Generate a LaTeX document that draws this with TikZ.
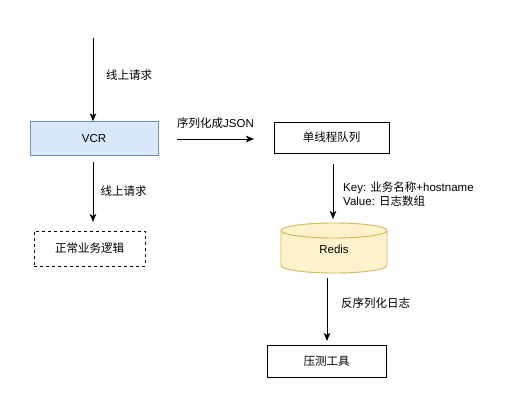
\documentclass[tikz,border=0pt]{standalone}
\usepackage{fontspec}
\setmainfont{Liberation Sans}
\newfontfamily\cjk{Noto Sans CJK SC}
\usetikzlibrary{arrows.meta}
\definecolor{vcrfill}{HTML}{DAE8FC}
\definecolor{vcrline}{HTML}{6C8EBF}
\definecolor{redisfill}{HTML}{FFF2CC}
\definecolor{redisline}{HTML}{D6B656}
\tikzset{
  every node/.style={font=\fontsize{11.5}{13.5}\selectfont, inner sep=0pt},
  box/.style={draw=black, line width=0.9pt, minimum width=#1},
  conn/.style={line width=0.9pt, -{Stealth[length=8pt,width=6.5pt,inset=2pt]}},
  lbl/.style={anchor=west, align=left},
}
\begin{document}
\begin{tikzpicture}[x=1pt,y=1pt]
\useasboundingbox (0,0) rectangle (524,402);
\fill[white] (0,0) rectangle (524,402);
% nodes
\node[draw=vcrline, fill=vcrfill, line width=0.9pt, minimum width=128pt, minimum height=34pt] (vcr) at (94,263.2) {VCR};
\node[draw=black, dashed, line width=0.9pt, minimum width=111pt, minimum height=35pt] (normal) at (89.5,153.5) {\cjk 正常业务逻辑};
\node[draw=black, line width=0.9pt, minimum width=115pt, minimum height=31pt] (queue) at (331.5,264.5) {\cjk 单线程队列};
\node[minimum width=106pt, minimum height=50pt] (redis) at (334,154) {};
\node[draw=black, line width=0.9pt, minimum width=119pt, minimum height=32pt] (tool) at (326.5,41) {\cjk 压测工具};
% redis cylinder
\filldraw[fill=redisfill, draw=redisline, line width=0.9pt]
  (281,171.5) -- (281,136.5) arc (180:360:53 and 7.5) -- (387,171.5) arc (0:180:53 and 7.5) -- cycle;
\draw[redisline, line width=0.9pt] (281,171.5) arc (180:360:53 and 7.5);
\node at (334,153) {Redis};
% free ends
\coordinate (in) at (93,364);
\coordinate (vcrout) at (93,240);
\coordinate (normalin) at (93,180);
\coordinate (jsonout) at (177,263);
\coordinate (jsonin) at (254,263);
\coordinate (qout) at (333,238);
\coordinate (rin) at (333,183);
\coordinate (rout) at (327,124);
\coordinate (tin) at (327,61);
% connectors
\draw[conn] (in) -- (vcr.north -| in);
\draw[conn] (vcrout) -- (normalin);
\draw[conn] (jsonout) -- (jsonin);
\draw[conn] (qout) -- (rin);
\draw[conn] (rout) -- (tin);
% labels
\node[lbl] (l1) at (106,327) {\cjk 线上请求};
\node[lbl] (l2) at (100.5,211) {\cjk 线上请求};
\node[lbl] (l3) at (177,279) {{\cjk 序列化成}JSON};
\node[lbl] (l4) at (343,208) {Key: {\cjk 业务名称}+hostname\\Value: {\cjk 日志数组}};
\node[lbl] (l5) at (341,99) {\cjk 反序列化日志};
\end{tikzpicture}
\end{document}
